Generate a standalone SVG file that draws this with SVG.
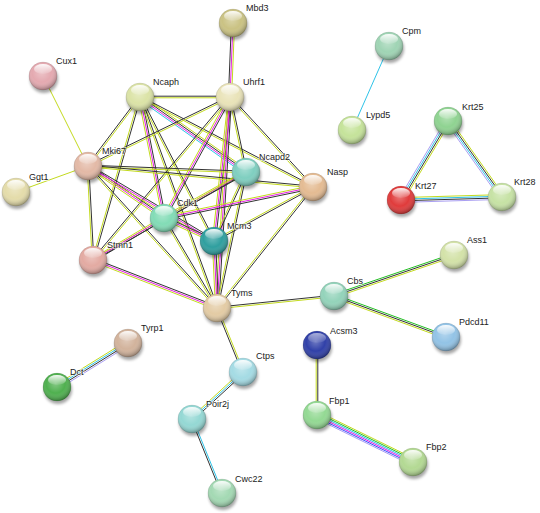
<svg xmlns="http://www.w3.org/2000/svg" width="540" height="513" viewBox="0 0 540 513">
<style>
line{stroke-width:1;fill:none}
.k{stroke:#333}
.y{stroke:#c3da1e}
.m{stroke:#e51ee5}
.c{stroke:#2ec3e8}
.p{stroke:#a99ef2}
.b{stroke:#3a4cff}
.g{stroke:#22bf22}
.sh{fill:#000;opacity:0.35;filter:url(#blur)}
.sd{fill:url(#shade);stroke:#000;stroke-opacity:0.15;stroke-width:0.6}
.gl{fill:url(#gloss)}
text{font-family:"Liberation Sans",Arial,sans-serif;font-size:9px;fill:#222;stroke:#fff;stroke-width:1.6;stroke-opacity:0.7;paint-order:stroke}
</style>
<defs>
<filter id="blur" x="-50%" y="-50%" width="200%" height="200%"><feGaussianBlur stdDeviation="1.4"/></filter>
<radialGradient id="shade" cx="45%" cy="38%" r="62%"><stop offset="0" stop-color="#fff" stop-opacity="0.3"/><stop offset="0.55" stop-color="#fff" stop-opacity="0"/><stop offset="1" stop-color="#000" stop-opacity="0.32"/></radialGradient>
<linearGradient id="gloss" x1="0" y1="0" x2="0" y2="1"><stop offset="0" stop-color="#fff" stop-opacity="0.95"/><stop offset="1" stop-color="#fff" stop-opacity="0.08"/></linearGradient>
</defs>
<rect width="540" height="513" fill="#fff"/>
<g id="edges">
<line x1="43" y1="76" x2="88" y2="166" class="y"/>
<line x1="16" y1="192" x2="88" y2="166" class="y"/>
<g><line x1="233" y1="23" x2="230" y2="97" class="k" transform="translate(-1.6,0)"/><line x1="233" y1="23" x2="230" y2="97" class="m"/><line x1="233" y1="23" x2="230" y2="97" class="y" transform="translate(1.6,0)"/></g>
<line x1="389" y1="46" x2="352" y2="130" class="c"/>
<g><line x1="448" y1="121" x2="401" y2="200" class="p" transform="translate(-2.1,-1.2)"/><line x1="448" y1="121" x2="401" y2="200" class="c" transform="translate(-0.7,-0.4)"/><line x1="448" y1="121" x2="401" y2="200" class="k" transform="translate(0.7,0.4)"/><line x1="448" y1="121" x2="401" y2="200" class="y" transform="translate(2.1,1.2)"/></g>
<g><line x1="448" y1="121" x2="502" y2="197" class="p" transform="translate(-1.95,1.39)"/><line x1="448" y1="121" x2="502" y2="197" class="c" transform="translate(-0.65,0.46)"/><line x1="448" y1="121" x2="502" y2="197" class="k" transform="translate(0.65,-0.46)"/><line x1="448" y1="121" x2="502" y2="197" class="y" transform="translate(1.95,-1.39)"/></g>
<g><line x1="401" y1="200" x2="502" y2="197" class="y" transform="translate(0,-2.4)"/><line x1="401" y1="200" x2="502" y2="197" class="c" transform="translate(0,-0.8)"/><line x1="401" y1="200" x2="502" y2="197" class="k" transform="translate(0,0.8)"/><line x1="401" y1="200" x2="502" y2="197" class="p" transform="translate(0,2.4)"/></g>
<g><line x1="128" y1="343" x2="57" y2="387" class="y" transform="translate(-1.26,-2.04)"/><line x1="128" y1="343" x2="57" y2="387" class="c" transform="translate(-0.42,-0.68)"/><line x1="128" y1="343" x2="57" y2="387" class="k" transform="translate(0.42,0.68)"/><line x1="128" y1="343" x2="57" y2="387" class="p" transform="translate(1.26,2.04)"/></g>
<g><line x1="217" y1="308" x2="334" y2="296" class="k" transform="translate(-0.08,-0.8)"/><line x1="217" y1="308" x2="334" y2="296" class="y" transform="translate(0.08,0.8)"/></g>
<g><line x1="334" y1="296" x2="454" y2="255" class="g" transform="translate(-0.52,-1.51)"/><line x1="334" y1="296" x2="454" y2="255" class="k"/><line x1="334" y1="296" x2="454" y2="255" class="y" transform="translate(0.52,1.51)"/></g>
<g><line x1="334" y1="296" x2="446" y2="337" class="g" transform="translate(0.55,-1.5)"/><line x1="334" y1="296" x2="446" y2="337" class="k"/><line x1="334" y1="296" x2="446" y2="337" class="y" transform="translate(-0.55,1.5)"/></g>
<g><line x1="217" y1="308" x2="243" y2="372" class="k" transform="translate(-0.74,0.3)"/><line x1="217" y1="308" x2="243" y2="372" class="y" transform="translate(0.74,-0.3)"/></g>
<g><line x1="243" y1="372" x2="192" y2="419" class="y" transform="translate(-1.08,-1.18)"/><line x1="243" y1="372" x2="192" y2="419" class="c"/><line x1="243" y1="372" x2="192" y2="419" class="k" transform="translate(1.08,1.18)"/></g>
<g><line x1="192" y1="419" x2="222" y2="493" class="k" transform="translate(-0.74,0.3)"/><line x1="192" y1="419" x2="222" y2="493" class="c" transform="translate(0.74,-0.3)"/></g>
<g><line x1="317" y1="345" x2="317" y2="415" class="y" transform="translate(-0.8,0)"/><line x1="317" y1="345" x2="317" y2="415" class="k" transform="translate(0.8,0)"/></g>
<g><line x1="317" y1="415" x2="413" y2="462" class="y" transform="translate(1.55,-3.15)"/><line x1="317" y1="415" x2="413" y2="462" class="g" transform="translate(0.93,-1.89)"/><line x1="317" y1="415" x2="413" y2="462" class="c" transform="translate(0.31,-0.63)"/><line x1="317" y1="415" x2="413" y2="462" class="m" transform="translate(-0.31,0.63)"/><line x1="317" y1="415" x2="413" y2="462" class="b" transform="translate(-0.93,1.89)"/><line x1="317" y1="415" x2="413" y2="462" class="p" transform="translate(-1.55,3.15)"/></g>
<g><line x1="140" y1="97" x2="230" y2="97" class="k" transform="translate(0,-0.8)"/><line x1="140" y1="97" x2="230" y2="97" class="y" transform="translate(0,0.8)"/></g>
<g><line x1="140" y1="97" x2="88" y2="166" class="k" transform="translate(-0.64,-0.48)"/><line x1="140" y1="97" x2="88" y2="166" class="y" transform="translate(0.64,0.48)"/></g>
<g><line x1="140" y1="97" x2="246" y2="172" class="y" transform="translate(1.38,-1.96)"/><line x1="140" y1="97" x2="246" y2="172" class="k" transform="translate(0.46,-0.65)"/><line x1="140" y1="97" x2="246" y2="172" class="m" transform="translate(-0.46,0.65)"/><line x1="140" y1="97" x2="246" y2="172" class="c" transform="translate(-1.38,1.96)"/></g>
<g><line x1="140" y1="97" x2="164" y2="218" class="k" transform="translate(1.57,-0.31)"/><line x1="140" y1="97" x2="164" y2="218" class="m"/><line x1="140" y1="97" x2="164" y2="218" class="y" transform="translate(-1.57,0.31)"/></g>
<g><line x1="140" y1="97" x2="214" y2="241" class="k" transform="translate(0.71,-0.37)"/><line x1="140" y1="97" x2="214" y2="241" class="y" transform="translate(-0.71,0.37)"/></g>
<g><line x1="140" y1="97" x2="217" y2="308" class="k" transform="translate(0.75,-0.27)"/><line x1="140" y1="97" x2="217" y2="308" class="y" transform="translate(-0.75,0.27)"/></g>
<g><line x1="140" y1="97" x2="313" y2="187" class="k" transform="translate(0.37,-0.71)"/><line x1="140" y1="97" x2="313" y2="187" class="y" transform="translate(-0.37,0.71)"/></g>
<g><line x1="140" y1="97" x2="93" y2="260" class="k" transform="translate(0.77,0.22)"/><line x1="140" y1="97" x2="93" y2="260" class="y" transform="translate(-0.77,-0.22)"/></g>
<g><line x1="230" y1="97" x2="88" y2="166" class="k" transform="translate(-0.35,-0.72)"/><line x1="230" y1="97" x2="88" y2="166" class="y" transform="translate(0.35,0.72)"/></g>
<g><line x1="230" y1="97" x2="246" y2="172" class="k" transform="translate(0.78,-0.17)"/><line x1="230" y1="97" x2="246" y2="172" class="y" transform="translate(-0.78,0.17)"/></g>
<g><line x1="230" y1="97" x2="164" y2="218" class="k" transform="translate(1.4,0.77)"/><line x1="230" y1="97" x2="164" y2="218" class="m"/><line x1="230" y1="97" x2="164" y2="218" class="y" transform="translate(-1.4,-0.77)"/></g>
<g><line x1="230" y1="97" x2="214" y2="241" class="k" transform="translate(1.59,0.18)"/><line x1="230" y1="97" x2="214" y2="241" class="m"/><line x1="230" y1="97" x2="214" y2="241" class="y" transform="translate(-1.59,-0.18)"/></g>
<g><line x1="230" y1="97" x2="217" y2="308" class="k" transform="translate(1.6,0.1)"/><line x1="230" y1="97" x2="217" y2="308" class="m"/><line x1="230" y1="97" x2="217" y2="308" class="y" transform="translate(-1.6,-0.1)"/></g>
<g><line x1="230" y1="97" x2="313" y2="187" class="k" transform="translate(0.59,-0.54)"/><line x1="230" y1="97" x2="313" y2="187" class="y" transform="translate(-0.59,0.54)"/></g>
<g><line x1="230" y1="97" x2="93" y2="260" class="k" transform="translate(-0.61,-0.51)"/><line x1="230" y1="97" x2="93" y2="260" class="y" transform="translate(0.61,0.51)"/></g>
<g><line x1="88" y1="166" x2="246" y2="172" class="k" transform="translate(0.03,-0.8)"/><line x1="88" y1="166" x2="246" y2="172" class="y" transform="translate(-0.03,0.8)"/></g>
<g><line x1="88" y1="166" x2="164" y2="218" class="k" transform="translate(0.9,-1.32)"/><line x1="88" y1="166" x2="164" y2="218" class="m"/><line x1="88" y1="166" x2="164" y2="218" class="y" transform="translate(-0.9,1.32)"/></g>
<g><line x1="88" y1="166" x2="214" y2="241" class="k" transform="translate(0.82,-1.38)"/><line x1="88" y1="166" x2="214" y2="241" class="m"/><line x1="88" y1="166" x2="214" y2="241" class="y" transform="translate(-0.82,1.38)"/></g>
<g><line x1="88" y1="166" x2="93" y2="260" class="k" transform="translate(0.8,-0.04)"/><line x1="88" y1="166" x2="93" y2="260" class="y" transform="translate(-0.8,0.04)"/></g>
<g><line x1="88" y1="166" x2="217" y2="308" class="k" transform="translate(0.59,-0.54)"/><line x1="88" y1="166" x2="217" y2="308" class="y" transform="translate(-0.59,0.54)"/></g>
<g><line x1="88" y1="166" x2="313" y2="187" class="k" transform="translate(0.08,-0.8)"/><line x1="88" y1="166" x2="313" y2="187" class="y" transform="translate(-0.08,0.8)"/></g>
<g><line x1="246" y1="172" x2="164" y2="218" class="k" transform="translate(0.78,1.4)"/><line x1="246" y1="172" x2="164" y2="218" class="m"/><line x1="246" y1="172" x2="164" y2="218" class="y" transform="translate(-0.78,-1.4)"/></g>
<g><line x1="246" y1="172" x2="214" y2="241" class="k" transform="translate(0.73,0.34)"/><line x1="246" y1="172" x2="214" y2="241" class="y" transform="translate(-0.73,-0.34)"/></g>
<g><line x1="246" y1="172" x2="217" y2="308" class="k" transform="translate(0.78,0.17)"/><line x1="246" y1="172" x2="217" y2="308" class="y" transform="translate(-0.78,-0.17)"/></g>
<g><line x1="246" y1="172" x2="93" y2="260" class="k" transform="translate(0.4,0.7)"/><line x1="246" y1="172" x2="93" y2="260" class="y" transform="translate(-0.4,-0.7)"/></g>
<g><line x1="313" y1="187" x2="164" y2="218" class="k" transform="translate(0.33,1.57)"/><line x1="313" y1="187" x2="164" y2="218" class="m"/><line x1="313" y1="187" x2="164" y2="218" class="y" transform="translate(-0.33,-1.57)"/></g>
<g><line x1="313" y1="187" x2="214" y2="241" class="k" transform="translate(0.39,0.7)"/><line x1="313" y1="187" x2="214" y2="241" class="y" transform="translate(-0.39,-0.7)"/></g>
<g><line x1="313" y1="187" x2="217" y2="308" class="k" transform="translate(0.63,0.5)"/><line x1="313" y1="187" x2="217" y2="308" class="y" transform="translate(-0.63,-0.5)"/></g>
<g><line x1="164" y1="218" x2="214" y2="241" class="k" transform="translate(0.67,-1.45)"/><line x1="164" y1="218" x2="214" y2="241" class="m"/><line x1="164" y1="218" x2="214" y2="241" class="y" transform="translate(-0.67,1.45)"/></g>
<g><line x1="164" y1="218" x2="93" y2="260" class="k" transform="translate(0.81,1.38)"/><line x1="164" y1="218" x2="93" y2="260" class="m"/><line x1="164" y1="218" x2="93" y2="260" class="y" transform="translate(-0.81,-1.38)"/></g>
<g><line x1="164" y1="218" x2="217" y2="308" class="k" transform="translate(0.69,-0.41)"/><line x1="164" y1="218" x2="217" y2="308" class="y" transform="translate(-0.69,0.41)"/></g>
<g><line x1="214" y1="241" x2="217" y2="308" class="k" transform="translate(1.6,-0.07)"/><line x1="214" y1="241" x2="217" y2="308" class="m"/><line x1="214" y1="241" x2="217" y2="308" class="y" transform="translate(-1.6,0.07)"/></g>
<g><line x1="93" y1="260" x2="217" y2="308" class="k" transform="translate(0.58,-1.49)"/><line x1="93" y1="260" x2="217" y2="308" class="m"/><line x1="93" y1="260" x2="217" y2="308" class="y" transform="translate(-0.58,1.49)"/></g>
</g>
<g id="n-Mbd3"><circle class="sh" cx="234" cy="26" r="14"/><circle cx="233" cy="23" r="14" fill="#cac283"/><circle class="sd" cx="233" cy="23" r="14"/><ellipse class="gl" cx="233" cy="16" rx="9" ry="5"/><text x="246" y="11">Mbd3</text></g>
<g id="n-Cpm"><circle class="sh" cx="390" cy="49" r="14"/><circle cx="389" cy="46" r="14" fill="#9fd4b4"/><circle class="sd" cx="389" cy="46" r="14"/><ellipse class="gl" cx="389" cy="39" rx="9" ry="5"/><text x="402" y="34">Cpm</text></g>
<g id="n-Cux1"><circle class="sh" cx="44" cy="79" r="14"/><circle cx="43" cy="76" r="14" fill="#e4a9b0"/><circle class="sd" cx="43" cy="76" r="14"/><ellipse class="gl" cx="43" cy="69" rx="9" ry="5"/><text x="56" y="64">Cux1</text></g>
<g id="n-Ncaph"><circle class="sh" cx="141" cy="100" r="14"/><circle cx="140" cy="97" r="14" fill="#dbe3a6"/><circle class="sd" cx="140" cy="97" r="14"/><ellipse class="gl" cx="140" cy="90" rx="9" ry="5"/><text x="153" y="85">Ncaph</text></g>
<g id="n-Uhrf1"><circle class="sh" cx="231" cy="100" r="14"/><circle cx="230" cy="97" r="14" fill="#e9e3b8"/><circle class="sd" cx="230" cy="97" r="14"/><ellipse class="gl" cx="230" cy="90" rx="9" ry="5"/><text x="243" y="85">Uhrf1</text></g>
<g id="n-Lypd5"><circle class="sh" cx="353" cy="133" r="14"/><circle cx="352" cy="130" r="14" fill="#c5e39a"/><circle class="sd" cx="352" cy="130" r="14"/><ellipse class="gl" cx="352" cy="123" rx="9" ry="5"/><text x="366" y="118">Lypd5</text></g>
<g id="n-Krt25"><circle class="sh" cx="449" cy="124" r="14"/><circle cx="448" cy="121" r="14" fill="#8fd391"/><circle class="sd" cx="448" cy="121" r="14"/><ellipse class="gl" cx="448" cy="114" rx="9" ry="5"/><text x="462" y="110">Krt25</text></g>
<g id="n-Mki67"><circle class="sh" cx="89" cy="169" r="14"/><circle cx="88" cy="166" r="14" fill="#e3b9a6"/><circle class="sd" cx="88" cy="166" r="14"/><ellipse class="gl" cx="88" cy="159" rx="9" ry="5"/><text x="102" y="154">Mki67</text></g>
<g id="n-Ncapd2"><circle class="sh" cx="247" cy="175" r="14"/><circle cx="246" cy="172" r="14" fill="#7fcfc0"/><circle class="sd" cx="246" cy="172" r="14"/><ellipse class="gl" cx="246" cy="165" rx="9" ry="5"/><text x="259" y="160">Ncapd2</text></g>
<g id="n-Nasp"><circle class="sh" cx="314" cy="190" r="14"/><circle cx="313" cy="187" r="14" fill="#e4bb92"/><circle class="sd" cx="313" cy="187" r="14"/><ellipse class="gl" cx="313" cy="180" rx="9" ry="5"/><text x="327" y="175">Nasp</text></g>
<g id="n-Krt27"><circle class="sh" cx="402" cy="203" r="14"/><circle cx="401" cy="200" r="14" fill="#e03b3b"/><circle class="sd" cx="401" cy="200" r="14"/><ellipse class="gl" cx="401" cy="193" rx="9" ry="5"/><text x="415" y="189">Krt27</text></g>
<g id="n-Krt28"><circle class="sh" cx="503" cy="200" r="14"/><circle cx="502" cy="197" r="14" fill="#c6e2a4"/><circle class="sd" cx="502" cy="197" r="14"/><ellipse class="gl" cx="502" cy="190" rx="9" ry="5"/><text x="514" y="185">Krt28</text></g>
<g id="n-Ggt1"><circle class="sh" cx="17" cy="195" r="14"/><circle cx="16" cy="192" r="14" fill="#e4dcaa"/><circle class="sd" cx="16" cy="192" r="14"/><ellipse class="gl" cx="16" cy="185" rx="9" ry="5"/><text x="29" y="180">Ggt1</text></g>
<g id="n-Cdk1"><circle class="sh" cx="165" cy="221" r="14"/><circle cx="164" cy="218" r="14" fill="#82dcb6"/><circle class="sd" cx="164" cy="218" r="14"/><ellipse class="gl" cx="164" cy="211" rx="9" ry="5"/><text x="177" y="206">Cdk1</text></g>
<g id="n-Mcm3"><circle class="sh" cx="215" cy="244" r="14"/><circle cx="214" cy="241" r="14" fill="#2f9f9f"/><circle class="sd" cx="214" cy="241" r="14"/><ellipse class="gl" cx="214" cy="234" rx="9" ry="5"/><text x="227" y="229">Mcm3</text></g>
<g id="n-Stmn1"><circle class="sh" cx="94" cy="263" r="14"/><circle cx="93" cy="260" r="14" fill="#e3aaa2"/><circle class="sd" cx="93" cy="260" r="14"/><ellipse class="gl" cx="93" cy="253" rx="9" ry="5"/><text x="107" y="248">Stmn1</text></g>
<g id="n-Ass1"><circle class="sh" cx="455" cy="258" r="14"/><circle cx="454" cy="255" r="14" fill="#d3e2a8"/><circle class="sd" cx="454" cy="255" r="14"/><ellipse class="gl" cx="454" cy="248" rx="9" ry="5"/><text x="467" y="243">Ass1</text></g>
<g id="n-Tyms"><circle class="sh" cx="218" cy="311" r="14"/><circle cx="217" cy="308" r="14" fill="#e3cba4"/><circle class="sd" cx="217" cy="308" r="14"/><ellipse class="gl" cx="217" cy="301" rx="9" ry="5"/><text x="231" y="296">Tyms</text></g>
<g id="n-Cbs"><circle class="sh" cx="335" cy="299" r="14"/><circle cx="334" cy="296" r="14" fill="#93d3ba"/><circle class="sd" cx="334" cy="296" r="14"/><ellipse class="gl" cx="334" cy="289" rx="9" ry="5"/><text x="347" y="284">Cbs</text></g>
<g id="n-Pdcd11"><circle class="sh" cx="447" cy="340" r="14"/><circle cx="446" cy="337" r="14" fill="#92c3e6"/><circle class="sd" cx="446" cy="337" r="14"/><ellipse class="gl" cx="446" cy="330" rx="9" ry="5"/><text x="459" y="325">Pdcd11</text></g>
<g id="n-Tyrp1"><circle class="sh" cx="129" cy="346" r="14"/><circle cx="128" cy="343" r="14" fill="#d2b39c"/><circle class="sd" cx="128" cy="343" r="14"/><ellipse class="gl" cx="128" cy="336" rx="9" ry="5"/><text x="141" y="331">Tyrp1</text></g>
<g id="n-Acsm3"><circle class="sh" cx="318" cy="348" r="14"/><circle cx="317" cy="345" r="14" fill="#3040a8"/><circle class="sd" cx="317" cy="345" r="14"/><ellipse class="gl" cx="317" cy="338" rx="9" ry="5" opacity="0.6"/><text x="330" y="334">Acsm3</text></g>
<g id="n-Ctps"><circle class="sh" cx="244" cy="375" r="14"/><circle cx="243" cy="372" r="14" fill="#a4dbe4"/><circle class="sd" cx="243" cy="372" r="14"/><ellipse class="gl" cx="243" cy="365" rx="9" ry="5"/><text x="256" y="359">Ctps</text></g>
<g id="n-Dct"><circle class="sh" cx="58" cy="390" r="14"/><circle cx="57" cy="387" r="14" fill="#4fb04f"/><circle class="sd" cx="57" cy="387" r="14"/><ellipse class="gl" cx="57" cy="380" rx="9" ry="5"/><text x="70" y="375">Dct</text></g>
<g id="n-Poir2j"><circle class="sh" cx="193" cy="422" r="14"/><circle cx="192" cy="419" r="14" fill="#94d8d4"/><circle class="sd" cx="192" cy="419" r="14"/><ellipse class="gl" cx="192" cy="412" rx="9" ry="5"/><text x="206" y="407">Poir2j</text></g>
<g id="n-Fbp1"><circle class="sh" cx="318" cy="418" r="14"/><circle cx="317" cy="415" r="14" fill="#93d993"/><circle class="sd" cx="317" cy="415" r="14"/><ellipse class="gl" cx="317" cy="408" rx="9" ry="5"/><text x="329" y="404">Fbp1</text></g>
<g id="n-Fbp2"><circle class="sh" cx="414" cy="465" r="14"/><circle cx="413" cy="462" r="14" fill="#b3d993"/><circle class="sd" cx="413" cy="462" r="14"/><ellipse class="gl" cx="413" cy="455" rx="9" ry="5"/><text x="426" y="450">Fbp2</text></g>
<g id="n-Cwc22"><circle class="sh" cx="223" cy="496" r="14"/><circle cx="222" cy="493" r="14" fill="#a3d9b3"/><circle class="sd" cx="222" cy="493" r="14"/><ellipse class="gl" cx="222" cy="486" rx="9" ry="5"/><text x="235" y="482">Cwc22</text></g>
</svg>
